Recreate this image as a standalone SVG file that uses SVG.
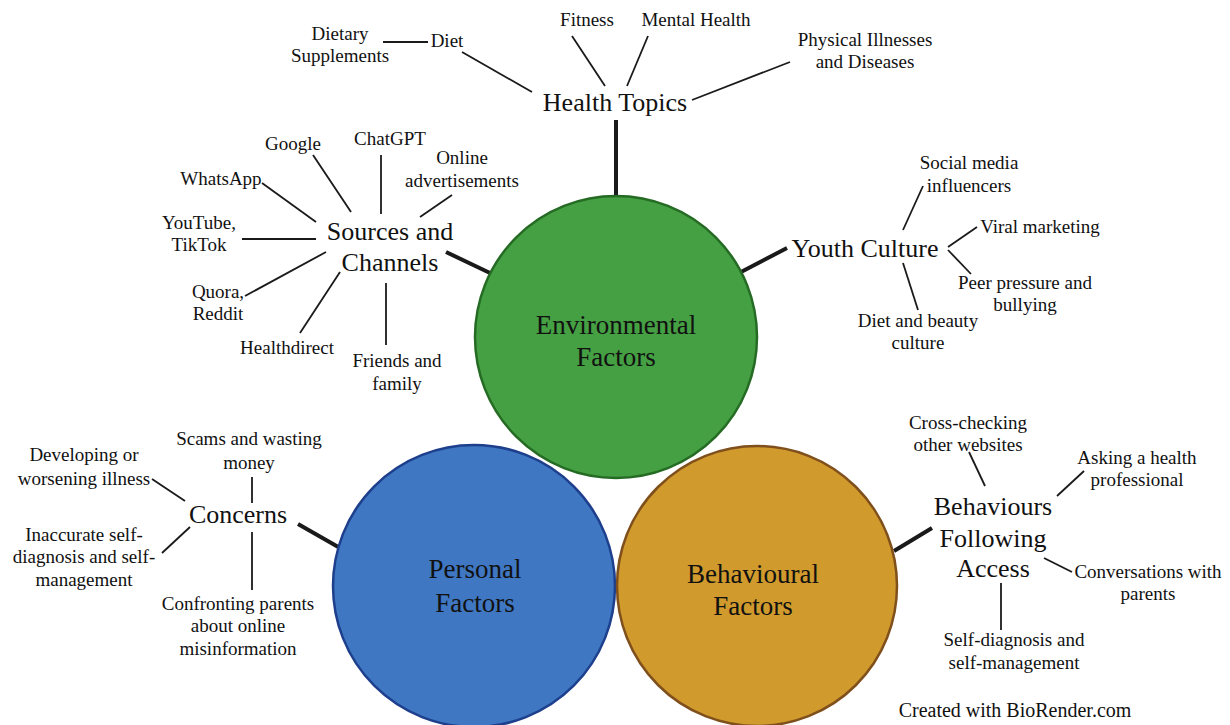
<svg xmlns="http://www.w3.org/2000/svg" width="1230" height="725" viewBox="0 0 1230 725">
  <style>
    text { font-family: "Liberation Serif", "Times New Roman", serif; fill: #111; text-anchor: middle; }
    .leaf { font-size: 19px; }
    .hub { font-size: 26px; }
    .core { font-size: 27px; }
    .credit { font-size: 20px; }
    .thin { stroke: #1a1a1a; stroke-width: 1.8; fill: none; }
    .thick { stroke: #1a1a1a; stroke-width: 4; fill: none; }
    .env { fill: #45a043; stroke: #256b24; stroke-width: 2.5; }
    .per { fill: #3f77c2; stroke: #1d3f8c; stroke-width: 2.5; }
    .beh { fill: #d09a2d; stroke: #7f4f1c; stroke-width: 2.5; }
  </style>
  <rect width="1230" height="725" fill="#ffffff"/>

  <!-- connectors -->
  <g id="connectors">
    <!-- Health Topics -->
    <line class="thin" x1="383" y1="42" x2="428" y2="42"/>
    <line class="thin" x1="462" y1="52" x2="532" y2="92"/>
    <line class="thin" x1="572" y1="36" x2="605" y2="86"/>
    <line class="thin" x1="648" y1="36" x2="627" y2="86"/>
    <line class="thin" x1="790" y1="62" x2="692" y2="100"/>
    <line class="thick" x1="616" y1="120" x2="616" y2="196"/>
    <!-- Sources and Channels -->
    <line class="thin" x1="313" y1="155" x2="351" y2="212"/>
    <line class="thin" x1="381" y1="155" x2="381" y2="214"/>
    <line class="thin" x1="452" y1="195" x2="420" y2="217"/>
    <line class="thin" x1="262" y1="183" x2="316" y2="222"/>
    <line class="thin" x1="242" y1="239" x2="316" y2="239"/>
    <line class="thin" x1="245" y1="296" x2="326" y2="252"/>
    <line class="thin" x1="300" y1="333" x2="340" y2="272"/>
    <line class="thin" x1="386" y1="283" x2="386" y2="345"/>
    <line class="thick" x1="446" y1="252" x2="490" y2="273"/>
    <!-- Youth Culture -->
    <line class="thick" x1="741" y1="272" x2="787" y2="248"/>
    <line class="thin" x1="903" y1="230" x2="923" y2="186"/>
    <line class="thin" x1="948" y1="247" x2="977" y2="227"/>
    <line class="thin" x1="948" y1="250" x2="971" y2="274"/>
    <line class="thin" x1="903" y1="263" x2="918" y2="310"/>
    <!-- Concerns -->
    <line class="thin" x1="252" y1="477" x2="252" y2="503"/>
    <line class="thin" x1="152" y1="479" x2="185" y2="501"/>
    <line class="thin" x1="162" y1="553" x2="190" y2="527"/>
    <line class="thin" x1="252" y1="532" x2="252" y2="590"/>
    <line class="thick" x1="298" y1="524" x2="340" y2="548"/>
    <!-- Behaviours Following Access -->
    <line class="thin" x1="969" y1="452" x2="985" y2="486"/>
    <line class="thin" x1="1057" y1="496" x2="1084" y2="471"/>
    <line class="thin" x1="1044" y1="558" x2="1072" y2="572"/>
    <line class="thin" x1="1001" y1="583" x2="1001" y2="630"/>
    <line class="thick" x1="894" y1="551" x2="932" y2="528"/>
  </g>

  <!-- core factor circles -->
  <g id="environmental">
    <circle class="env" cx="616" cy="337" r="141"/>
    <text class="core" x="616" y="334">Environmental</text>
    <text class="core" x="616" y="366">Factors</text>
  </g>
  <g id="personal">
    <circle class="per" cx="474" cy="586" r="141"/>
    <text class="core" x="475" y="578">Personal</text>
    <text class="core" x="475" y="612">Factors</text>
  </g>
  <g id="behavioural">
    <circle class="beh" cx="757" cy="586" r="140"/>
    <text class="core" x="753" y="583">Behavioural</text>
    <text class="core" x="753" y="615">Factors</text>
  </g>

  <!-- Health Topics branch -->
  <g id="health-topics"><text class="hub" x="615" y="111">Health Topics</text></g>
  <g id="dietary-supplements"><text class="leaf" x="340" y="40">Dietary</text><text class="leaf" x="340" y="62">Supplements</text></g>
  <g id="diet"><text class="leaf" x="447" y="47">Diet</text></g>
  <g id="fitness"><text class="leaf" x="587" y="26">Fitness</text></g>
  <g id="mental-health"><text class="leaf" x="696" y="26">Mental Health</text></g>
  <g id="physical-illnesses"><text class="leaf" x="865" y="46">Physical Illnesses</text><text class="leaf" x="865" y="68">and Diseases</text></g>

  <!-- Sources and Channels branch -->
  <g id="sources-channels"><text class="hub" x="390" y="240">Sources and</text><text class="hub" x="390" y="271">Channels</text></g>
  <g id="google"><text class="leaf" x="293" y="150">Google</text></g>
  <g id="chatgpt"><text class="leaf" x="390" y="145">ChatGPT</text></g>
  <g id="online-ads"><text class="leaf" x="462" y="164">Online</text><text class="leaf" x="462" y="187">advertisements</text></g>
  <g id="whatsapp"><text class="leaf" x="221" y="185">WhatsApp</text></g>
  <g id="youtube-tiktok"><text class="leaf" x="199" y="229">YouTube,</text><text class="leaf" x="199" y="251">TikTok</text></g>
  <g id="quora-reddit"><text class="leaf" x="218" y="298">Quora,</text><text class="leaf" x="218" y="320">Reddit</text></g>
  <g id="healthdirect"><text class="leaf" x="287" y="354">Healthdirect</text></g>
  <g id="friends-family"><text class="leaf" x="397" y="367">Friends and</text><text class="leaf" x="397" y="390">family</text></g>

  <!-- Youth Culture branch -->
  <g id="youth-culture"><text class="hub" x="865" y="257">Youth Culture</text></g>
  <g id="influencers"><text class="leaf" x="969" y="169">Social media</text><text class="leaf" x="969" y="192">influencers</text></g>
  <g id="viral-marketing"><text class="leaf" x="1040" y="233">Viral marketing</text></g>
  <g id="peer-pressure"><text class="leaf" x="1025" y="289">Peer pressure and</text><text class="leaf" x="1025" y="311">bullying</text></g>
  <g id="diet-beauty"><text class="leaf" x="918" y="327">Diet and beauty</text><text class="leaf" x="918" y="349">culture</text></g>

  <!-- Concerns branch -->
  <g id="concerns"><text class="hub" x="238" y="523">Concerns</text></g>
  <g id="scams"><text class="leaf" x="249" y="445">Scams and wasting</text><text class="leaf" x="249" y="469">money</text></g>
  <g id="worsening-illness"><text class="leaf" x="84" y="461">Developing or</text><text class="leaf" x="84" y="485">worsening illness</text></g>
  <g id="inaccurate-self-diagnosis"><text class="leaf" x="84" y="541">Inaccurate self-</text><text class="leaf" x="84" y="563">diagnosis and self-</text><text class="leaf" x="84" y="586">management</text></g>
  <g id="confronting-parents"><text class="leaf" x="238" y="610">Confronting parents</text><text class="leaf" x="238" y="632">about online</text><text class="leaf" x="238" y="655">misinformation</text></g>

  <!-- Behaviours Following Access branch -->
  <g id="behaviours-following-access"><text class="hub" x="993" y="515">Behaviours</text><text class="hub" x="993" y="547">Following</text><text class="hub" x="993" y="577">Access</text></g>
  <g id="cross-checking"><text class="leaf" x="968" y="429">Cross-checking</text><text class="leaf" x="968" y="451">other websites</text></g>
  <g id="asking-professional"><text class="leaf" x="1137" y="464">Asking a health</text><text class="leaf" x="1137" y="486">professional</text></g>
  <g id="conversations-parents"><text class="leaf" x="1148" y="578">Conversations with</text><text class="leaf" x="1148" y="600">parents</text></g>
  <g id="self-diagnosis"><text class="leaf" x="1014" y="646">Self-diagnosis and</text><text class="leaf" x="1014" y="669">self-management</text></g>

  <text class="credit" x="1015" y="717">Created with BioRender.com</text>
</svg>
